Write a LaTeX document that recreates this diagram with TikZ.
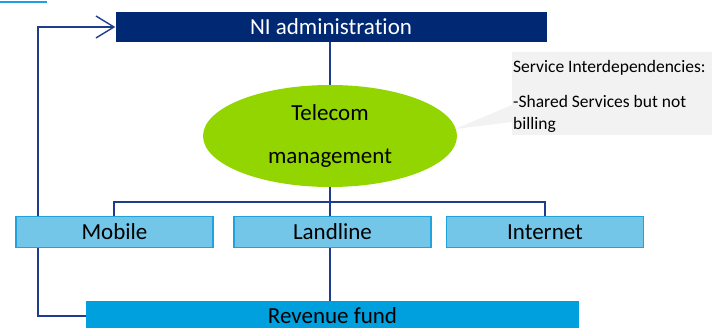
\documentclass[tikz,border=0pt]{standalone}
\usepackage{fontspec}
\setmainfont{Carlito}[Ligatures={NoCommon,NoContextual},RawFeature={-liga;-clig;-calt}]
\usetikzlibrary{arrows.meta,shapes.geometric,backgrounds}
\definecolor{navy}{HTML}{002873}
\definecolor{linec}{HTML}{1F3D8C}
\definecolor{leaf}{HTML}{93D500}
\definecolor{boxfill}{HTML}{73C6E7}
\definecolor{boxline}{HTML}{1FA3DD}
\definecolor{revfill}{HTML}{00A0DF}
\definecolor{callgray}{HTML}{F2F2F2}
\definecolor{linkblue}{HTML}{1BA1E2}
\tikzset{
  conn/.style={draw=linec, line width=1.6pt},
  bigtext/.style={font=\fontsize{23}{26}\selectfont},
  unitbox/.style={draw=boxline, line width=1.5pt, fill=boxfill, minimum width=197pt, minimum height=31pt, inner sep=0pt, bigtext},
  calltext/.style={anchor=base west, inner sep=0pt, font=\fontsize{17.5}{21}\selectfont}
}
\begin{document}
\begin{tikzpicture}[x=1pt,y=-1pt]
\useasboundingbox (0,0) rectangle (712,328);
\clip (0,0) rectangle (712,328);
% top-left link underline fragment
\fill[linkblue] (0,1) rectangle (47,3);
% nodes
\node[fill=navy, minimum width=431pt, minimum height=30pt, inner sep=0pt, text=white, bigtext] (ni) at (331,27) {NI administration};
\node[ellipse, fill=leaf, minimum width=254pt, minimum height=102pt, inner sep=0pt, align=center, font=\fontsize{23}{43}\selectfont] (tm) at (330,136) {Telecom\\management};
\node[unitbox] (mob) at (114.5,232) {Mobile};
\node[unitbox] (land) at (332.5,232) {Landline};
\node[unitbox] (inet) at (545,232) {Internet};
\node[fill=revfill, minimum width=493pt, minimum height=27pt, inner sep=0pt] (rev) at (332.5,314.5) {};
\node[inner sep=0pt, anchor=base, bigtext] (revtext) at (332.5,323.5) {Revenue fund};
% callout
\fill[callgray] (512,52) -- (712,52) -- (712,135) -- (512,135) -- (512,122) -- (455,129) -- (512,105) -- cycle;
\node[calltext] (c1) at (513,73) {Service Interdependencies:};
\node[calltext] (c2) at (513,108) {-Shared Services but not};
\node[calltext] (c3) at (513,130) {billing};
% connectors
\coordinate (bar) at (330,202);
\coordinate (lp) at (38,0);
\begin{scope}[on background layer]
\draw[conn] (ni.south -| tm.north) -- (tm.north);
\draw[conn] (tm.south) -- (bar);
\draw[conn] (mob.north -| 114,0) |- (bar) -| (inet.north);
\draw[conn] (bar) -- (land.north -| bar);
\draw[conn] (land.south -| bar) -- (rev.north -| bar);
\draw[conn, -{Straight Barb[length=18pt, width=22pt, line width=1.4pt]}] (rev.west |- 0,316) -- (lp |- 0,316) -- (ni.west -| lp) -- (ni.west);
\end{scope}
\end{tikzpicture}
\end{document}
